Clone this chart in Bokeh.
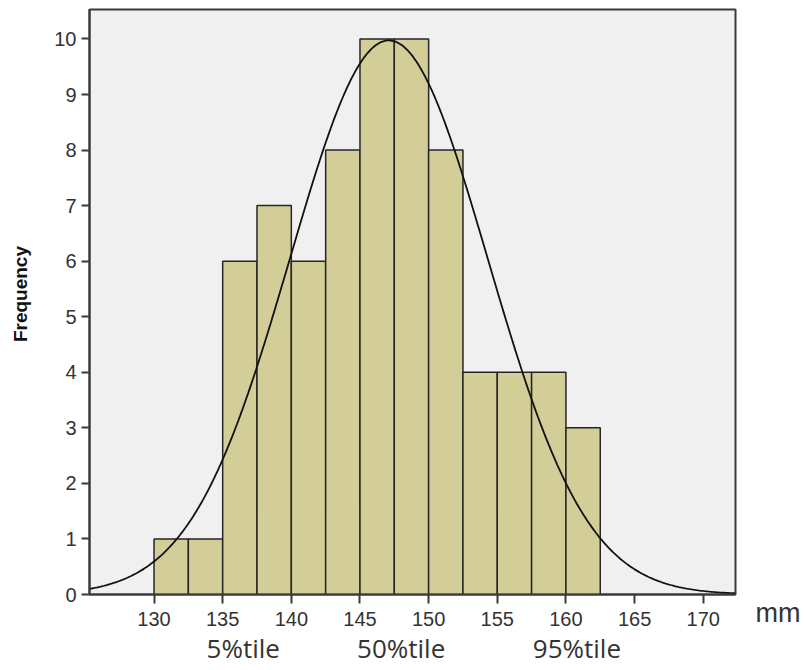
from bokeh.plotting import figure
from bokeh.models import Range1d, FixedTicker, ColumnDataSource, LinearAxis
from bokeh.embed import file_html
from bokeh.resources import INLINE
import numpy as np

# ---- data ----
bin_left = [130.0, 132.5, 135.0, 137.5, 140.0, 142.5, 145.0, 147.5, 150.0, 152.5, 155.0, 157.5, 160.0]
bin_right = [132.5, 135.0, 137.5, 140.0, 142.5, 145.0, 147.5, 150.0, 152.5, 155.0, 157.5, 160.0, 162.5]
counts = [1, 1, 6, 7, 6, 8, 10, 10, 8, 4, 4, 4, 3]

# fitted normal curve parameters
mean_mm = 147.1
sd_mm = 7.2

x_ticks = [130, 135, 140, 145, 150, 155, 160, 165, 170]
y_ticks = [0, 1, 2, 3, 4, 5, 6, 7, 8, 9, 10]

note_texts = ["5%tile", "50%tile", "95%tile"]
note_x = [136.5, 148.0, 160.8]
unit_text = "mm"

# ---- derived ----
x_lo, x_hi = 125.3, 172.35
n_total = sum(counts)
bin_w = bin_right[0] - bin_left[0]
xs = np.linspace(x_lo, x_hi, 400)
ys = n_total * bin_w / (sd_mm * np.sqrt(2 * np.pi)) * np.exp(-0.5 * ((xs - mean_mm) / sd_mm) ** 2)

p = figure(width=804, height=670,
           x_range=Range1d(x_lo, x_hi), y_range=Range1d(0, 10.53),
           output_backend="svg", toolbar_location=None,
           min_border_left=89, min_border_right=69, min_border_top=9, min_border_bottom=76)

p.background_fill_color = "#f0f0f0"
p.border_fill_color = "white"
p.outline_line_color = "#3a3a3a"
p.outline_line_width = 2
p.xgrid.visible = False
p.ygrid.visible = False

src = ColumnDataSource(dict(left=bin_left, right=bin_right, top=counts, bottom=[0] * len(counts)))
p.quad(left="left", right="right", top="top", bottom="bottom", source=src,
       fill_color="#d3ce97", line_color="#262626", line_width=1.5)

p.line(xs, ys, line_color="#111111", line_width=1.8)

for ax in (p.xaxis[0], p.yaxis[0]):
    ax.axis_line_color = "#3a3a3a"
    ax.axis_line_width = 2
    ax.major_tick_line_color = "#3a3a3a"
    ax.major_tick_line_width = 2
    ax.major_tick_in = 0
    ax.minor_tick_line_color = None
    ax.major_label_text_font = "Liberation Sans"
    ax.major_label_text_font_size = "20px"
    ax.major_label_text_color = "#333333"

p.xaxis[0].ticker = FixedTicker(ticks=x_ticks)
p.xaxis[0].major_tick_out = 9
p.xaxis[0].major_label_standoff = 8

p.yaxis[0].ticker = FixedTicker(ticks=y_ticks)
p.yaxis[0].major_tick_out = 8
p.yaxis[0].major_label_standoff = 5
p.yaxis[0].axis_label = "\u00a0\u00a0\u00a0Frequency"
p.yaxis[0].axis_label_text_font = "Liberation Sans"
p.yaxis[0].axis_label_text_font_style = "bold"
p.yaxis[0].axis_label_text_font_size = "19px"
p.yaxis[0].axis_label_text_color = "#111111"
p.yaxis[0].axis_label_standoff = 20

# percentile notes as a second, tick-less axis below the main one
note_axis = LinearAxis(ticker=FixedTicker(ticks=note_x),
                       major_label_overrides={v: t for v, t in zip(note_x, note_texts)},
                       axis_line_color=None, major_tick_line_color=None, minor_tick_line_color=None,
                       major_tick_out=0, major_tick_in=0, major_label_standoff=1,
                       major_label_text_font="Open Sans", major_label_text_font_size="26px",
                       major_label_text_color="#333333")
p.add_layout(note_axis, "below")

# unit text to the right of the x axis
unit_axis = LinearAxis(ticker=FixedTicker(ticks=[0]),
                       major_label_overrides={0: "\n" + unit_text},
                       axis_line_color=None, major_tick_line_color=None, minor_tick_line_color=None,
                       major_tick_out=0, major_tick_in=0, major_label_standoff=20,
                       major_label_text_font="Liberation Sans", major_label_text_font_size="27px",
                       major_label_text_color="#333333")
p.add_layout(unit_axis, "right")

open("out.html", "w").write(file_html(p, INLINE))
